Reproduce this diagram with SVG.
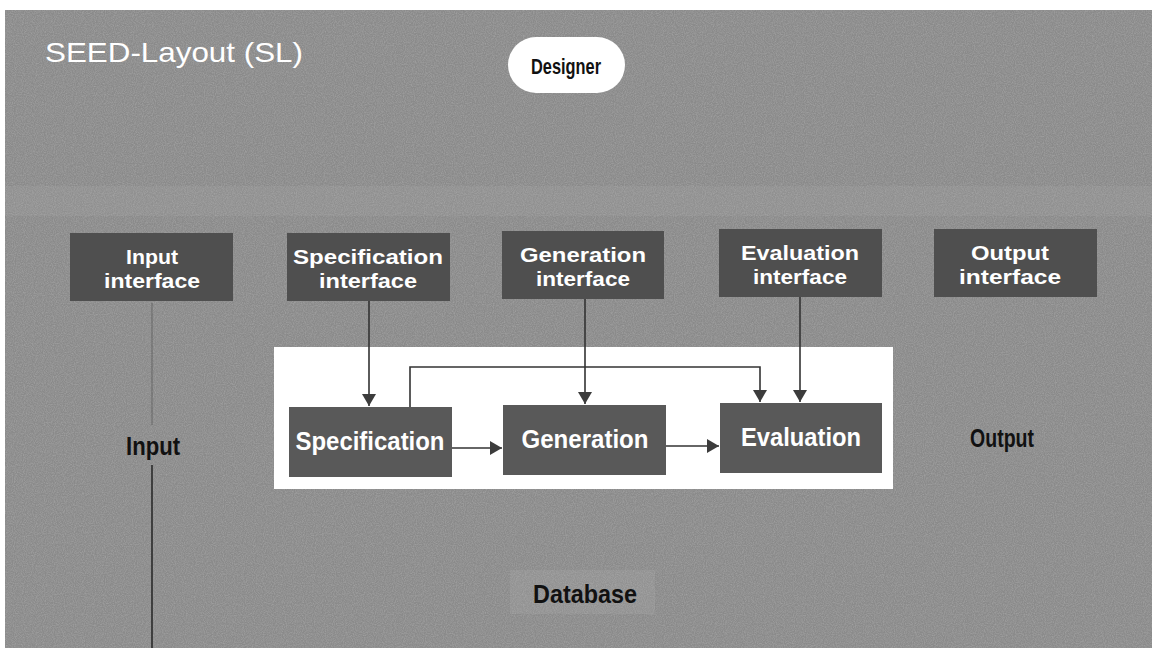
<svg xmlns="http://www.w3.org/2000/svg" width="1159" height="656" viewBox="0 0 1159 656">
<defs>
<filter id="grain" x="0" y="0" width="100%" height="100%">
<feTurbulence type="fractalNoise" baseFrequency="0.9" numOctaves="2" seed="3"/>
<feColorMatrix type="matrix" values="0 0 0 0 0.5  0 0 0 0 0.5  0 0 0 0 0.5  1.4 0 0 0 -0.45"/>
</filter>
<marker id="arr" viewBox="0 0 12 14" refX="12" refY="7" markerWidth="12" markerHeight="14" markerUnits="userSpaceOnUse" orient="auto">
<path d="M0,0 L12,7 L0,14 Z" fill="#3c3c3c"/>
</marker>
</defs>
<style>
.iface{fill:#4f4f4f;}
.proc{fill:#595959;}
.wt{font-family:"Liberation Sans",Arial,sans-serif;font-weight:bold;fill:#ffffff;text-anchor:middle;}
.dk{font-family:"Liberation Sans",Arial,sans-serif;font-weight:bold;fill:#111111;text-anchor:middle;}
.ln{stroke:#333333;stroke-width:1.6;fill:none;}
</style>
<rect x="0" y="0" width="1159" height="656" fill="#ffffff"/>
<rect id="panel" x="5" y="10" width="1147" height="638" fill="#8a8a8a"/>
<rect x="5" y="186" width="1147" height="30" fill="#ffffff" opacity="0.06"/>
<rect x="510" y="570" width="145" height="44" fill="#ffffff" opacity="0.07"/>
<rect x="5" y="10" width="1147" height="638" filter="url(#grain)" opacity="0.55"/>

<text x="45" y="62" font-family="Liberation Sans,Arial,sans-serif" font-size="28" fill="#ffffff" textLength="258" lengthAdjust="spacingAndGlyphs">SEED-Layout  (SL)</text>

<g id="designer">
<rect x="508" y="37" width="117" height="56" rx="28" fill="#ffffff"/>
<text x="566" y="74" font-family="Liberation Sans,Arial,sans-serif" font-weight="bold" font-size="22" fill="#111111" text-anchor="middle" textLength="70" lengthAdjust="spacingAndGlyphs">Designer</text>
</g>

<g id="input-interface">
<rect class="iface" x="70" y="233" width="163" height="68"/>
<text class="wt" x="152" y="264" font-size="20" textLength="52" lengthAdjust="spacingAndGlyphs">Input</text>
<text class="wt" x="152" y="288" font-size="20" textLength="96" lengthAdjust="spacingAndGlyphs">interface</text>
</g>
<g id="specification-interface">
<rect class="iface" x="287" y="233" width="163" height="68"/>
<text class="wt" x="368" y="264" font-size="20" textLength="150" lengthAdjust="spacingAndGlyphs">Specification</text>
<text class="wt" x="368" y="288" font-size="20" textLength="98" lengthAdjust="spacingAndGlyphs">interface</text>
</g>
<g id="generation-interface">
<rect class="iface" x="502" y="231" width="162" height="68"/>
<text class="wt" x="583" y="262" font-size="20" textLength="126" lengthAdjust="spacingAndGlyphs">Generation</text>
<text class="wt" x="583" y="286" font-size="20" textLength="94" lengthAdjust="spacingAndGlyphs">interface</text>
</g>
<g id="evaluation-interface">
<rect class="iface" x="719" y="229" width="163" height="68"/>
<text class="wt" x="800" y="260" font-size="20" textLength="118" lengthAdjust="spacingAndGlyphs">Evaluation</text>
<text class="wt" x="800" y="284" font-size="20" textLength="94" lengthAdjust="spacingAndGlyphs">interface</text>
</g>
<g id="output-interface">
<rect class="iface" x="934" y="229" width="163" height="68"/>
<text class="wt" x="1010" y="260" font-size="20" textLength="78" lengthAdjust="spacingAndGlyphs">Output</text>
<text class="wt" x="1010" y="284" font-size="20" textLength="102" lengthAdjust="spacingAndGlyphs">interface</text>
</g>

<g id="sl-core">
<rect x="274" y="347" width="619" height="142" fill="#ffffff"/>
</g>
<g id="specification">
<rect class="proc" x="289" y="407" width="163" height="70"/>
<text class="wt" x="370" y="450" font-size="25" textLength="149" lengthAdjust="spacingAndGlyphs">Specification</text>
</g>
<g id="generation">
<rect class="proc" x="503" y="405" width="163" height="70"/>
<text class="wt" x="585" y="448" font-size="25" textLength="127" lengthAdjust="spacingAndGlyphs">Generation</text>
</g>
<g id="evaluation">
<rect class="proc" x="720" y="403" width="162" height="70"/>
<text class="wt" x="801" y="446" font-size="25" textLength="120" lengthAdjust="spacingAndGlyphs">Evaluation</text>
</g>

<g id="input">
<text class="dk" x="153" y="455" font-size="26" textLength="54" lengthAdjust="spacingAndGlyphs">Input</text>
</g>
<g id="output">
<text class="dk" x="1002" y="447" font-size="26" textLength="64" lengthAdjust="spacingAndGlyphs">Output</text>
</g>
<g id="database">
<text class="dk" x="585" y="603" font-size="25" textLength="104" lengthAdjust="spacingAndGlyphs">Database</text>
</g>

<g id="connectors">
<line class="ln" x1="369" y1="301" x2="369" y2="406" marker-end="url(#arr)"/>
<line class="ln" x1="585" y1="299" x2="585" y2="404" marker-end="url(#arr)"/>
<line class="ln" x1="800" y1="297" x2="800" y2="402" marker-end="url(#arr)"/>
<polyline class="ln" points="410,407 410,367 760,367 760,402" marker-end="url(#arr)"/>
<line class="ln" x1="452" y1="448" x2="502" y2="448" marker-end="url(#arr)"/>
<line class="ln" x1="666" y1="446" x2="719" y2="446" marker-end="url(#arr)"/>
<line x1="152" y1="303" x2="152" y2="425" stroke="#555555" stroke-width="1.2" opacity="0.6"/>
<line x1="152" y1="465" x2="152" y2="648" stroke="#2a2a2a" stroke-width="1.6"/>
</g>
</svg>
